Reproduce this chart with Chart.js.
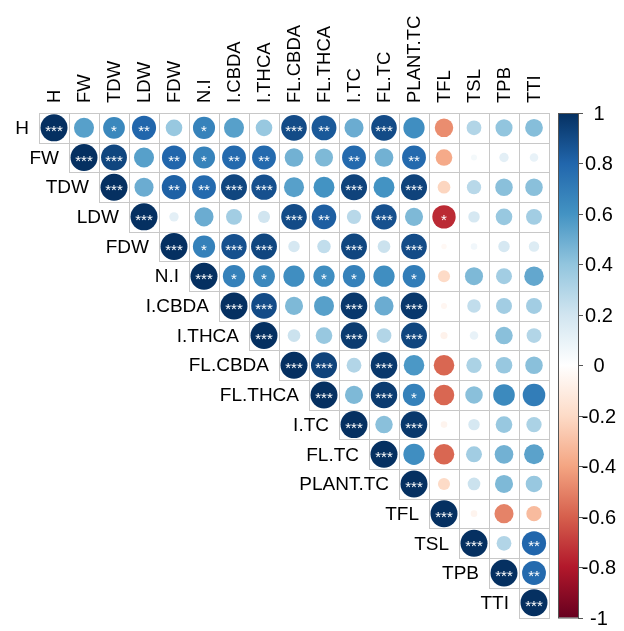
<!DOCTYPE html>
<html>
<head>
<meta charset="utf-8">
<script src="https://cdn.jsdelivr.net/npm/chart.js@4.4.0/dist/chart.umd.min.js"></script>
<style>
    html, body { margin: 0; padding: 0; background: #fff; }
    canvas { display: block; }
</style>
</head>
<body>
<canvas id="corr" width="624" height="631"></canvas>
<script>
// variables, dans l'ordre de la matrice
const vars = ['H', 'FW', 'TDW', 'LDW', 'FDW', 'N.I', 'I.CBDA', 'I.THCA', 'FL.CBDA',
    'FL.THCA', 'I.TC', 'FL.TC', 'PLANT.TC', 'TFL', 'TSL', 'TPB', 'TTI'];

// triangle supérieur : chaque ligne commence à la diagonale
const corr = [
    [1, 0.55, 0.65, 0.8, 0.38, 0.67, 0.55, 0.38, 0.9, 0.85, 0.5, 0.9, 0.62, -0.47, 0.3, 0.4, 0.43],
    [1, 0.92, 0.55, 0.8, 0.67, 0.78, 0.78, 0.48, 0.45, 0.78, 0.48, 0.78, -0.38, 0.05, 0.12, 0.1],
    [1, 0.5, 0.82, 0.78, 0.92, 0.88, 0.55, 0.6, 0.93, 0.6, 0.93, -0.22, 0.28, 0.42, 0.42],
    [1, 0.12, 0.5, 0.35, 0.2, 0.9, 0.83, 0.28, 0.88, 0.45, -0.75, 0.18, 0.38, 0.35],
    [1, 0.68, 0.88, 0.92, 0.18, 0.25, 0.92, 0.22, 0.9, -0.04, 0.06, 0.18, 0.15],
    [1, 0.68, 0.65, 0.62, 0.62, 0.68, 0.62, 0.7, -0.2, 0.45, 0.35, 0.52],
    [1, 0.9, 0.45, 0.55, 0.97, 0.5, 0.97, -0.05, 0.25, 0.35, 0.35],
    [1, 0.22, 0.38, 0.96, 0.3, 0.92, -0.07, 0.1, 0.42, 0.3],
    [1, 0.93, 0.3, 0.97, 0.58, -0.58, 0.32, 0.38, 0.42],
    [1, 0.45, 0.96, 0.68, -0.58, 0.42, 0.64, 0.7],
    [1, 0.42, 0.97, -0.06, 0.18, 0.38, 0.32],
    [1, 0.62, -0.58, 0.35, 0.48, 0.54],
    [1, -0.2, 0.22, 0.45, 0.38],
    [1, -0.06, -0.5, -0.32],
    [1, 0.3, 0.8],
    [1, 0.78],
    [1]
];

const signif = [
    ['***', '', '*', '**', '', '*', '', '', '***', '**', '', '***', '', '', '', '', ''],
    ['***', '***', '', '**', '*', '**', '**', '', '', '**', '', '**', '', '', '', ''],
    ['***', '', '**', '**', '***', '***', '', '', '***', '', '***', '', '', '', ''],
    ['***', '', '', '', '', '***', '**', '', '***', '', '*', '', '', ''],
    ['***', '*', '***', '***', '', '', '***', '', '***', '', '', '', ''],
    ['***', '*', '*', '', '*', '*', '', '*', '', '', '', ''],
    ['***', '***', '', '', '***', '', '***', '', '', '', ''],
    ['***', '', '', '***', '', '***', '', '', '', ''],
    ['***', '***', '', '***', '', '', '', '', ''],
    ['***', '', '***', '*', '', '', '', ''],
    ['***', '', '***', '', '', '', ''],
    ['***', '', '', '', '', ''],
    ['***', '', '', '', ''],
    ['***', '', '', ''],
    ['***', '', '**'],
    ['***', '**'],
    ['***']
];

const barTicks = [1, 0.8, 0.6, 0.4, 0.2, 0, -0.2, -0.4, -0.6, -0.8, -1];

// RdBu, de -1 à 1
const palette = ['#67001F', '#B2182B', '#D6604D', '#F4A582', '#FDDBC7', '#FFFFFF',
    '#D1E5F0', '#92C5DE', '#4393C3', '#2166AC', '#053061'];

const FONT = '"Liberation Sans", Arial, Helvetica, sans-serif';

function hexRgb(h) {
    return [1, 3, 5].map(function (k) { return parseInt(h.substr(k, 2), 16); });
}

function colorFor(v) {
    const pos = (v + 1) / 2 * (palette.length - 1);
    const i = Math.min(Math.floor(pos), palette.length - 2);
    const t = pos - i;
    const a = hexRgb(palette[i]);
    const b = hexRgb(palette[i + 1]);
    const c = a.map(function (x, k) { return Math.round(x + (b[k] - x) * t); });
    return 'rgb(' + c.join(',') + ')';
}

// arrondi au pixel, sans les écarts de virgule flottante
function px(v) {
    return Math.round(v + 0.001) + 0.5;
}

const points = [];
corr.forEach(function (row, i) {
    row.forEach(function (v, k) {
        points.push({ x: i + k, y: i, v: v, s: signif[i][k] });
    });
});

const cellGrid = {
    id: 'cellGrid',
    beforeDatasetsDraw(chart) {
        const ctx = chart.ctx;
        const xs = chart.scales.x;
        const ys = chart.scales.y;
        ctx.save();
        ctx.strokeStyle = '#c8c8c8';
        ctx.lineWidth = 1;
        points.forEach(function (p) {
            const l = px(xs.getPixelForValue(p.x - 0.5));
            const r = px(xs.getPixelForValue(p.x + 0.5));
            const t = px(ys.getPixelForValue(p.y - 0.5));
            const b = px(ys.getPixelForValue(p.y + 0.5));
            ctx.strokeRect(l, t, r - l, b - t);
        });
        ctx.restore();
    }
};

const decorations = {
    id: 'decorations',
    afterDatasetsDraw(chart) {
        const ctx = chart.ctx;
        const xs = chart.scales.x;
        const ys = chart.scales.y;
        const cb = chart.scales.cb;
        const area = chart.chartArea;
        const half = (xs.getPixelForValue(1) - xs.getPixelForValue(0)) / 2;
        ctx.save();

        // étoiles de significativité
        ctx.fillStyle = '#ffffff';
        ctx.font = '15px ' + FONT;
        ctx.textAlign = 'center';
        ctx.textBaseline = 'middle';
        points.forEach(function (p) {
            if (p.s) {
                ctx.fillText(p.s, xs.getPixelForValue(p.x), ys.getPixelForValue(p.y) + 4);
            }
        });

        // libellés des colonnes (verticaux) et des lignes
        ctx.fillStyle = '#000000';
        vars.forEach(function (name, i) {
            const cx = xs.getPixelForValue(i);
            ctx.save();
            ctx.font = '18.5px ' + FONT;
            ctx.translate(cx + 1, area.top - 10);
            ctx.rotate(-Math.PI / 2);
            ctx.textAlign = 'left';
            ctx.textBaseline = 'middle';
            ctx.fillText(name, 0, 0);
            ctx.restore();

            ctx.font = '19px ' + FONT;
            ctx.textAlign = 'right';
            ctx.textBaseline = 'middle';
            ctx.fillText(name, cx - half - 10, ys.getPixelForValue(i) + 1);
        });

        // barre de couleurs
        const x0 = 558, x1 = 578;
        const top = cb.getPixelForValue(1);
        const bottom = cb.getPixelForValue(-1);
        const grad = ctx.createLinearGradient(0, bottom, 0, top);
        palette.forEach(function (c, k) {
            grad.addColorStop(k / (palette.length - 1), c);
        });
        ctx.fillStyle = grad;
        ctx.fillRect(x0, top, x1 - x0, bottom - top);
        ctx.strokeStyle = '#555555';
        ctx.lineWidth = 1;
        ctx.strokeRect(x0 + 0.5, top + 0.5, x1 - x0, bottom - top);

        ctx.fillStyle = '#000000';
        ctx.font = '20px ' + FONT;
        ctx.textAlign = 'center';
        ctx.textBaseline = 'middle';
        barTicks.forEach(function (t) {
            const y = px(cb.getPixelForValue(t));
            ctx.beginPath();
            ctx.moveTo(x1, y);
            ctx.lineTo(x1 + 5, y);
            ctx.stroke();
            ctx.fillText(String(t), 599, y + 1);
        });

        ctx.restore();
    }
};

new Chart(document.getElementById('corr'), {
    type: 'scatter',
    data: {
        datasets: [{
            data: points,
            pointRadius: function (c) {
                return 13.5 * Math.sqrt(Math.abs(c.raw.v));
            },
            pointBackgroundColor: function (c) {
                return colorFor(c.raw.v);
            },
            pointBorderWidth: 0,
            pointBorderColor: 'rgba(0,0,0,0)'
        }]
    },
    options: {
        responsive: false,
        animation: false,
        events: [],
        layout: { padding: { left: 39, top: 113, right: 75, bottom: 8 } },
        plugins: { legend: { display: false }, tooltip: { enabled: false } },
        scales: {
            x: { type: 'linear', min: -0.5, max: 16.5, display: false },
            y: { type: 'linear', min: -0.5, max: 16.5, reverse: true, display: false },
            cb: { type: 'linear', axis: 'y', min: -1, max: 1, display: false }
        }
    },
    plugins: [cellGrid, decorations]
});
</script>
</body>
</html>
